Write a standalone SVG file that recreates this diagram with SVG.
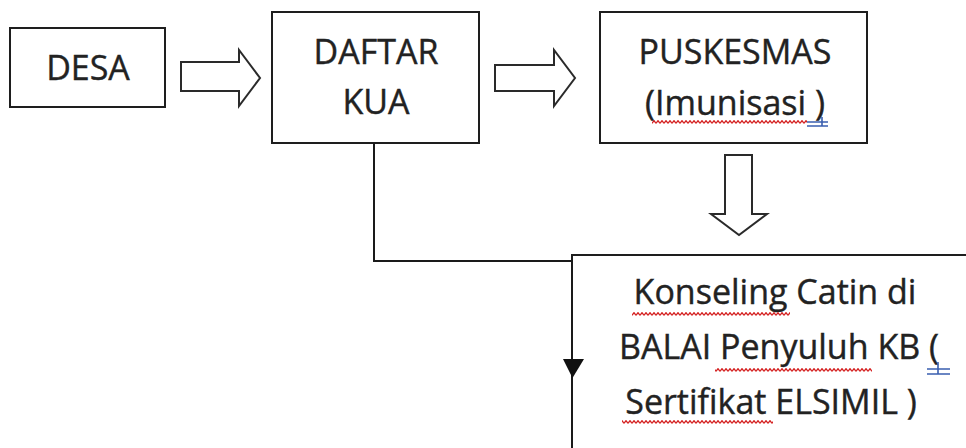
<svg xmlns="http://www.w3.org/2000/svg" width="966" height="448" viewBox="0 0 966 448">
<style>
.box{fill:#fff;stroke:#1e1e1e;stroke-width:2}
.blk{fill:#fff;stroke:#2a2a2a;stroke-width:2;stroke-linejoin:miter}
.t{font-family:"Open Sans","Liberation Sans",sans-serif;font-size:34px;fill:#222;stroke:#222;stroke-width:0.4;text-anchor:middle}
.con{fill:none;stroke:#1a1a1a;stroke-width:2}
.blue{fill:none;stroke:#3a5fb0;stroke-width:1.6}
</style>
<defs>
<pattern id="wave" width="4" height="4" patternUnits="userSpaceOnUse">
<path d="M0 3.3 L2 0.7 L4 3.3" fill="none" stroke="#d42020" stroke-width="1.3"/>
</pattern>
</defs>
<rect width="966" height="448" fill="#fff"/>
<g id="connectors">
<polygon class="blk" points="181,62 239,62 239,50 260,78 239,106 239,91 181,91"/>
<polygon class="blk" points="495,65 554,65 554,50 575,78 554,106 554,91 495,91"/>
<polygon class="blk" points="725,155 752,155 752,214 767,214 739,235 711,214 725,214"/>
</g>
<g id="desa">
<rect class="box" x="10" y="28" width="155" height="79"/>
<text class="t" x="88" y="80">DESA</text>
</g>
<g id="daftar-kua">
<rect class="box" x="272" y="12" width="207" height="131"/>
<text class="t" x="376" y="64">DAFTAR</text>
<text class="t" x="376" y="114">KUA</text>
</g>
<g id="puskesmas">
<rect class="box" x="600" y="12" width="267" height="131"/>
<text class="t" x="735" y="64">PUSKESMAS</text>
<text class="t" x="735" y="115">(Imunisasi )</text>
<rect x="652" y="120" width="155" height="4" fill="url(#wave)"/>
<path class="blue" d="M807 122 H828 M807 126 H828 M822 117 V126"/>
</g>
<g id="konseling">
<rect class="box" x="572" y="255" width="400" height="210"/>
<text class="t" x="775" y="304">Konseling Catin di</text>
<text class="t" x="779" y="359">BALAI Penyuluh KB ( </text>
<text class="t" x="771" y="414">Sertifikat ELSIMIL )</text>
<rect x="632" y="312" width="158" height="4" fill="url(#wave)"/>
<rect x="715" y="368" width="157" height="4" fill="url(#wave)"/>
<rect x="622" y="420" width="151" height="4" fill="url(#wave)"/>
<path class="blue" d="M927 369 H950 M927 374 H950 M938 362 V374"/>
</g>
<g id="connector-lines">
<path class="con" d="M374 143 V261 H572 V448"/>
<polygon points="563,359 584,359 572.5,378" fill="#111"/>
</g>
</svg>
